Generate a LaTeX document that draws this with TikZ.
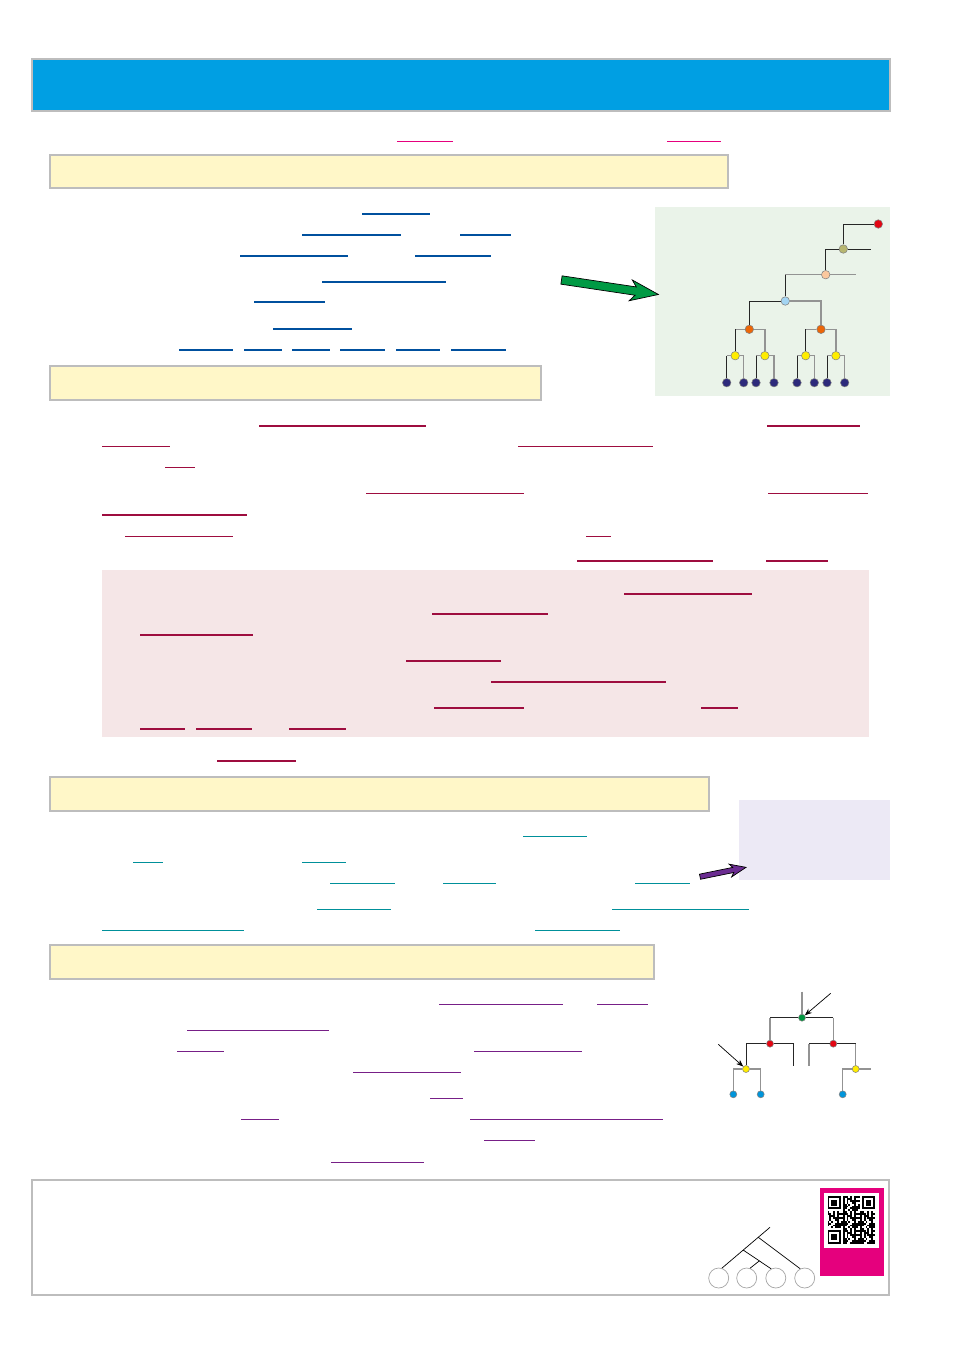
\documentclass[tikz,border=0pt]{standalone}
\usetikzlibrary{arrows.meta}
\definecolor{headblue}{HTML}{009FE3}
\definecolor{boxgray}{HTML}{BDBDBD}
\definecolor{noteyellow}{HTML}{FFF7C8}
\definecolor{panelgreen}{HTML}{EAF3E9}
\definecolor{panelpink}{HTML}{F5E6E7}
\definecolor{panellilac}{HTML}{ECE9F5}
\definecolor{magenta}{HTML}{E5007D}
\definecolor{lineblue}{HTML}{00509E}
\definecolor{linered}{HTML}{9E0D3F}
\definecolor{lineteal}{HTML}{00909A}
\definecolor{linepurple}{HTML}{771F87}
\definecolor{arrowgreen}{HTML}{009A44}
\definecolor{arrowpurple}{HTML}{6B2C91}
\definecolor{treered}{HTML}{E30613}
\definecolor{treeolive}{HTML}{B7B670}
\definecolor{treepeach}{HTML}{FBC89E}
\definecolor{treesky}{HTML}{A3D4F2}
\definecolor{treeorange}{HTML}{EC6608}
\definecolor{treeyellow}{HTML}{FFED00}
\definecolor{treenavy}{HTML}{2D2A7B}
\definecolor{treegreen}{HTML}{00963F}
\definecolor{leafblue}{HTML}{0095DB}
\tikzset{
  boxframe/.style={draw=boxgray,line width=0.6pt},
  ulmag/.style={draw=magenta,line width=1.1pt},
  ulblue/.style={draw=lineblue,line width=1.1pt},
  ulred/.style={draw=linered,line width=1.1pt},
  ulteal/.style={draw=lineteal,line width=1.1pt},
  ulpurple/.style={draw=linepurple,line width=1.1pt},
  twig/.style={draw=black!85,line width=0.5pt},
  twiggray/.style={draw=gray!85,line width=0.85pt},
  knot/.style={circle,draw=black!50,line width=0.3pt,inner sep=0pt,minimum size=0.17cm},
  knotsm/.style={circle,draw=black!50,line width=0.3pt,inner sep=0pt,minimum size=0.14cm},
  leafring/.style={circle,draw=gray!70,line width=0.4pt,inner sep=0pt,minimum size=0.4cm},
}
\begin{document}
\begin{tikzpicture}[x=0.02cm,y=-0.02cm]
  \useasboundingbox (0,0) rectangle (954,1350);
  \fill[white] (0,0) rectangle (954,1350);

  \filldraw[boxframe,fill=headblue]   (32,59)   rectangle (890,111);
  \filldraw[boxframe,fill=noteyellow] (50,155)  rectangle (728,188);
  \filldraw[boxframe,fill=noteyellow] (50,366)  rectangle (541,400);
  \filldraw[boxframe,fill=noteyellow] (50,777)  rectangle (709,811);
  \filldraw[boxframe,fill=noteyellow] (50,945)  rectangle (654,979);
  \fill[panelgreen]                   (655,207) rectangle (890,396);
  \fill[panelpink]                    (102,570) rectangle (869,737);
  \fill[panellilac]                   (739,800) rectangle (890,880);
  \draw[boxframe]                     (32,1180) rectangle (889,1295);

  \foreach \xa/\xb/\y in {397/453/141.5, 667/721/141.5}
    \draw[ulmag] (\xa,\y) -- (\xb,\y);
  \foreach \xa/\xb/\y in {362/430/214, 302/401/235, 460/511/235, 240/348/256, 415/491/256,
      322/446/282, 254/325/302, 273/352/329, 179/233/350, 244/282/350, 292/330/350,
      340/385/350, 396/440/350, 451/506/350}
    \draw[ulblue] (\xa,\y) -- (\xb,\y);
  \foreach \xa/\xb/\y in {259/426/426, 767/860/426, 102/170/446.5, 518/653/446.5, 165/195/467.5,
      366/524/493.5, 768/868/493.5, 102/247/515, 125/233/536.5, 586/611/536.5, 577/713/561,
      766/828/561, 624/752/594, 432/548/614, 140/253/635, 406/501/661, 491/666/682,
      434/524/708, 701/738/708, 140/185/729, 196/252/729, 289/346/729, 217/296/761}
    \draw[ulred] (\xa,\y) -- (\xb,\y);
  \foreach \xa/\xb/\y in {523/587/836.5, 133/163/862.5, 302/346/862.5, 330/395/883.5,
      443/496/883.5, 635/690/883.5, 317/391/909.5, 612/749/909.5, 102/244/930.5, 535/620/930.5}
    \draw[ulteal] (\xa,\y) -- (\xb,\y);
  \foreach \xa/\xb/\y in {439/563/1004.5, 597/648/1004.5, 187/329/1030.5, 177/224/1051.5,
      474/582/1051.5, 353/461/1072.5, 430/463/1098.5, 241/279/1119.5, 470/663/1119.5,
      484/535/1140.5, 331/424/1162.5}
    \draw[ulpurple] (\xa,\y) -- (\xb,\y);

  \begin{scope}[shift={(561.5,280)},rotate=-8.5]
    \filldraw[fill=arrowgreen,draw=black,line width=0.4pt]
      (0,-4.2) -- (75,-4.2) -- (70,-10.5) -- (98,0) -- (70,10.5) -- (75,4.2) -- (0,4.2) -- cycle;
  \end{scope}
  \begin{scope}[shift={(700,876.7)},rotate=11.5]
    \filldraw[fill=arrowpurple,draw=black,line width=0.4pt]
      (0,-2.6) -- (34,-2.6) -- (31,-6.5) -- (47,0) -- (31,6.5) -- (34,2.6) -- (0,2.6) -- cycle;
  \end{scope}

  \node[knot,fill=treered]    (r0) at (878.3,224.0) {};
  \node[knot,fill=treeolive]  (r1) at (843.3,249.0) {};
  \node[knot,fill=treepeach]  (r2) at (825.7,274.7) {};
  \node[knot,fill=treesky]    (r3) at (785.3,301.0) {};
  \node[knot,fill=treeorange] (o1) at (749.3,329.3) {};
  \node[knot,fill=treeorange] (o2) at (821.0,329.3) {};
  \node[knot,fill=treeyellow] (y1) at (735.2,355.7) {};
  \node[knot,fill=treeyellow] (y2) at (764.9,355.7) {};
  \node[knot,fill=treeyellow] (y3) at (805.7,355.7) {};
  \node[knot,fill=treeyellow] (y4) at (835.9,355.7) {};
  \foreach \x [count=\k] in {726.7,743.7,756.0,774.0,797.0,814.3,827.0,844.7}
    \node[knot,fill=treenavy] (l\k) at (\x,382.7) {};
  \coordinate (s1) at (870.7,249.0);
  \coordinate (s2) at (855.7,274.7);
  \draw[twig]     (r0) -| (r1);
  \draw[twig]     (r1) -- (s1);
  \draw[twig]     (r1) -| (r2);
  \draw[twiggray] (r2) -- (s2);
  \draw[twiggray] (r2) -- (r2 -| r3);
  \draw[twig]     (r2 -| r3) -- (r3);
  \draw[twig]     (r3) -| (o1);
  \draw[twiggray] (r3) -| (o2);
  \foreach \p/\a/\b in {o1/y1/y2, o2/y3/y4, y1/l1/l2, y2/l3/l4, y3/l5/l6, y4/l7/l8}{
    \draw[twiggray] (\p) -- (\p -| \a);
    \draw[twiggray] (\p) -| (\b);
    \draw[twig]     (\p -| \a) -- (\a);
  }

  \node[knotsm,fill=treegreen]  (g)  at (802.0,1017.7) {};
  \node[knotsm,fill=treered]    (ra) at (770.0,1043.7) {};
  \node[knotsm,fill=treered]    (rb) at (833.3,1043.7) {};
  \node[knotsm,fill=treeyellow] (ya) at (746.0,1069.0) {};
  \node[knotsm,fill=treeyellow] (yb) at (855.7,1069.0) {};
  \node[knotsm,fill=leafblue]   (ba) at (733.3,1094.3) {};
  \node[knotsm,fill=leafblue]   (bb) at (760.7,1094.3) {};
  \node[knotsm,fill=leafblue]   (bc) at (842.7,1094.3) {};
  \coordinate (gt) at (802.0,991.7);
  \coordinate (sa) at (793.3,1066.0);
  \coordinate (sb) at (809.0,1066.0);
  \coordinate (sc) at (870.7,1069.0);
  \coordinate (pa) at (830.7,993.3);
  \coordinate (pb) at (718.3,1044.3);
  \draw[twiggray] (gt) -- (g);
  \draw[twig]     (g) -- (g -| ra);
  \draw[twiggray] (g -| ra) -- (ra);
  \draw[twig]     (g) -- (g -| rb);
  \draw[twiggray] (g -| rb) -- (rb);
  \draw[twig]     (ra) -| (ya);
  \draw[twig]     (ra) -| (sa);
  \draw[twig]     (rb) -- (rb -| sb);
  \draw[twiggray] (rb -| sb) -- (sb);
  \draw[twig]     (rb) -- (rb -| yb);
  \draw[twiggray] (rb -| yb) -- (yb);
  \draw[twiggray] (ya) -| (ba);
  \draw[twiggray] (ya) -| (bb);
  \draw[twiggray] (yb) -| (bc);
  \draw[twiggray] (yb) -- (sc);
  \draw[-{Stealth[length=0.14cm,width=0.11cm]},line width=0.4pt] (pa) -- (g);
  \draw[-{Stealth[length=0.14cm,width=0.11cm]},line width=0.4pt] (pb) -- (ya);

  \node[leafring] (f1) at (718.7,1278) {};
  \node[leafring] (f2) at (746.7,1278) {};
  \node[leafring] (f3) at (775.8,1278) {};
  \node[leafring] (f4) at (804.7,1278) {};
  \coordinate (ft) at (770.0,1227.3);
  \coordinate (fa) at (758.3,1237.3);
  \coordinate (fb) at (743.3,1250.1);
  \coordinate (fc) at (759.3,1260.9);
  \draw[line width=0.4pt] (ft) -- (f1.72);
  \draw[line width=0.4pt] (fa) -- (f4.116);
  \draw[line width=0.4pt] (fb) -- (f3.117);
  \draw[line width=0.4pt] (fc) -- (f2.71);

  \fill[magenta] (819.7,1188.0) rectangle (884.3,1275.7);
  \fill[white]   (824.0,1192.7) rectangle (879.0,1248.3);
  \begin{scope}[shift={(827.5,1196.0)}]
    \foreach \i in {0,...,24}
      \foreach \j in {0,...,24}{
        \pgfmathtruncatemacro\q{mod(\i*\i*7+\j*\j*3+\i*\j*5+\i*3+\j*11,9)}
        \ifnum\q<5 \fill (\i*1.9,\j*1.9) rectangle ++(1.9,1.9); \fi
      }
    \foreach \cx/\cy/\sx/\sy in {0/0/0/0, 18/0/17/0, 0/18/0/17}{
      \fill[white] (\sx*1.9,\sy*1.9) rectangle ++(15.2,15.2);
      \fill[black] (\cx*1.9,\cy*1.9) rectangle ++(13.3,13.3);
      \fill[white] (\cx*1.9+1.9,\cy*1.9+1.9) rectangle ++(9.5,9.5);
      \fill[black] (\cx*1.9+3.8,\cy*1.9+3.8) rectangle ++(5.7,5.7);
    }
  \end{scope}
\end{tikzpicture}
\end{document}
